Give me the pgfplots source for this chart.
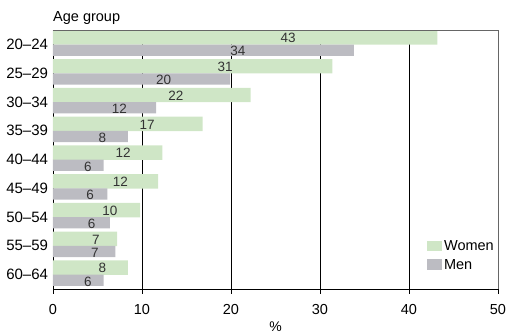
\documentclass[border=0pt]{standalone}
\usepackage{pgfplots}
\pgfplotsset{compat=1.18}
\usepackage{pgfplotstable}
\usepackage{fontspec}
\setmainfont{Liberation Sans}

\definecolor{women}{RGB}{207,230,198}
\definecolor{men}{RGB}{188,188,194}

% y: 8 = top group
\pgfplotstableread{
y  grp    women men
8  20--24 43.2  33.8
7  25--29 31.4  19.9
6  30--34 22.2  11.6
5  35--39 16.8  8.4
4  40--44 12.3  5.7
3  45--49 11.8  6.1
2  50--54 9.8   6.4
1  55--59 7.2   7.0
0  60--64 8.4   5.7
}\agedata

\begin{document}
\begin{tikzpicture}
\begin{axis}[
    scale only axis,
    width=445pt, height=259pt,
    clip mode=individual,
    xmin=0, xmax=50,
    ymin=-0.5, ymax=8.5,
    axis lines=left,
    axis line style={-, black},
    xtick={0,10,...,50},
    xtick align=outside,
    major tick length=5pt,
    x tick style={black},
    ytick={0,...,8},
    yticklabels={60--64,55--59,50--54,45--49,40--44,35--39,30--34,25--29,20--24},
    y tick style={draw=none},
    yticklabel style={font=\fontsize{15}{16}\selectfont, xshift=1pt},
    xticklabel style={font=\fontsize{14.5}{16}\selectfont, yshift=-7pt},
    xmajorgrids,
    grid style={black, thin},
    /pgf/number format/assume math mode=true,
    xlabel={\%},
    xlabel style={font=\fontsize{14}{15}\selectfont, at={(axis description cs:0.5,0)}, anchor=base, yshift=-43pt},
    legend style={at={(1,0)}, anchor=south east, draw=none, fill=none,
        font=\fontsize{14.5}{15}\selectfont, xshift=-1pt, yshift=15pt,
        row sep=3pt, inner sep=1pt,
        cells={anchor=west}},
    legend image code/.code={\fill[#1] (0cm,-0.17cm) rectangle (0.52cm,0.2cm);},
    every node near coord/.append style={anchor=center, font=\fontsize{13.5}{14}\selectfont, text=black!80},
]
\addplot[xbar, bar width=0.5, bar shift=0.24, fill=women, draw=none]
    table[x=women, y=y] {\agedata};
\addlegendentry{Women}
\addplot[xbar, bar width=0.39, bar shift=-0.2, fill=men, draw=none]
    table[x=men, y=y] {\agedata};
\addlegendentry{Men}

% value labels
\addplot[draw=none, forget plot, nodes near coords={\pgfmathprintnumber[fixed,precision=0]{\pgfplotspointmeta}},
    point meta=\thisrow{women}]
    table[x expr=0.6*\thisrow{women}+0.5, y expr=\thisrow{y}+0.22] {\agedata};
\addplot[draw=none, forget plot, nodes near coords={\pgfmathprintnumber[fixed,precision=0]{\pgfplotspointmeta}},
    point meta=\thisrow{men}]
    table[x expr=0.6*\thisrow{men}+0.5, y expr=\thisrow{y}-0.24] {\agedata};

\draw[black!60] (rel axis cs:0,1) -- (rel axis cs:1,1) -- (rel axis cs:1,0);
\node[anchor=base west, inner sep=0pt, font=\fontsize{14.5}{15}\selectfont] at ([yshift=8pt]rel axis cs:0,1) {Age group};
% page margins as in the reference
\path ([xshift=-53pt, yshift=30pt]rel axis cs:0,1) ([xshift=14pt, yshift=-45pt]rel axis cs:1,0);
\end{axis}
\end{tikzpicture}
\end{document}
